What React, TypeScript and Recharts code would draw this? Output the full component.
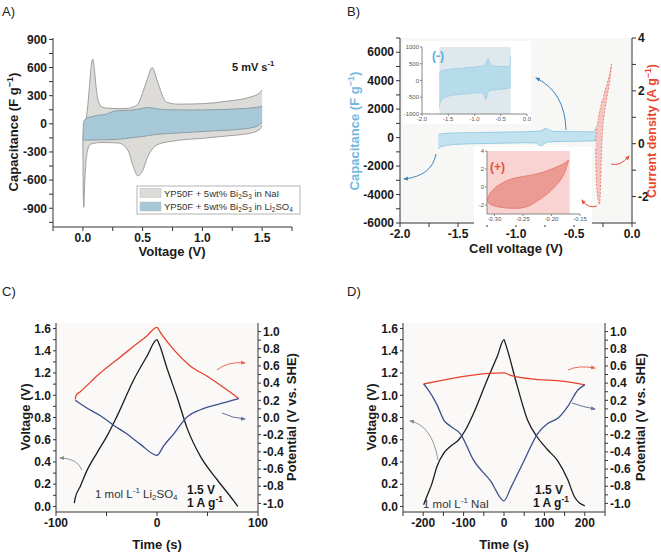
import { ComposedChart, Area, Line, XAxis, YAxis, CartesianGrid, ReferenceArea } from 'recharts';

const FONT = '"Liberation Sans", Arial, Helvetica, sans-serif';

// A) CV loops at 5 mV/s, capacitance (F/g) vs voltage (V)
const naiVoltage = [0, 0.004, 0.008, 0.015, 0.025, 0.04, 0.055, 0.07, 0.082, 0.095, 0.11, 0.13, 0.16, 0.2, 0.3, 0.38, 0.42, 0.46, 0.5, 0.54, 0.58, 0.62, 0.66, 0.7, 0.8, 1.0, 1.2, 1.4, 1.48, 1.5];
const naiUpper = [-175, -120, -60, -20, 40, 180, 400, 620, 690, 600, 400, 240, 180, 168, 162, 165, 180, 210, 330, 480, 600, 470, 320, 230, 210, 215, 240, 285, 330, 360];
const naiLower = [-180, -800, -890, -650, -420, -280, -230, -215, -210, -208, -205, -200, -200, -200, -205, -290, -450, -555, -500, -360, -270, -225, -205, -195, -175, -155, -130, -100, -60, -20];

const liVoltage = [0, 0.005, 0.02, 0.1, 0.2, 0.26, 0.3, 0.4, 0.5, 0.55, 0.6, 0.7, 0.9, 1.1, 1.3, 1.45, 1.5];
const liUpper = [-170, 10, 50, 85, 105, 135, 140, 145, 165, 175, 165, 150, 148, 150, 160, 175, 185];
const liLower = [-175, -180, -175, -172, -170, -168, -165, -150, -135, -125, -115, -105, -90, -75, -60, -30, 15];

// B) negative electrode (capacitance) and positive electrode (current density)
const negVoltage = [-1.67, -1.66, -1.63, -1.6, -1.5, -1.3, -1.1, -0.9, -0.83, -0.8, -0.78, -0.76, -0.74, -0.72, -0.68, -0.5, -0.34, -0.32, -0.31];
const negUpper = [200, 240, 280, 300, 330, 360, 390, 420, 440, 460, 500, 600, 640, 560, 440, 420, 410, 500, 750];
const negLower = [-800, -700, -600, -540, -470, -420, -390, -360, -380, -520, -560, -450, -340, -310, -290, -260, -230, -220, -200];

const posVoltage = [-0.314, -0.31, -0.305, -0.3, -0.29, -0.28, -0.27, -0.265, -0.26, -0.25, -0.24, -0.23, -0.22, -0.21, -0.2, -0.19, -0.18, -0.177];
const posUpper = [0.1, 0.35, 0.55, 0.7, 0.95, 1.2, 1.4, 1.5, 1.6, 1.7, 1.88, 2.05, 2.2, 2.35, 2.5, 2.7, 2.92, 3.0];
const posLower = [-0.2, -1.1, -1.6, -1.9, -2.15, -2.3, -1.4, -0.6, 0.0, 0.7, 1.1, 1.4, 1.65, 1.9, 2.15, 2.45, 2.82, 3.0];

const posZoomVoltage = [-0.313, -0.31, -0.3, -0.29, -0.28, -0.27, -0.26, -0.25, -0.24, -0.23, -0.22, -0.21, -0.2, -0.19, -0.18, -0.175, -0.17];
const posZoomUpper = [-1.45, -1.0, -0.15, 0.3, 0.65, 0.9, 1.05, 1.17, 1.28, 1.4, 1.55, 1.75, 2.0, 2.25, 2.55, 2.75, 3.0];
const posZoomLower = [-1.45, -1.8, -2.1, -2.25, -2.33, -2.37, -2.37, -2.3, -2.1, -1.75, -1.35, -0.9, -0.35, 0.3, 1.2, 1.9, 3.0];

// C) GCD in 1 mol/L Li2SO4
const liCellTime = [-81.8, -81, -76, -69.5, -59.6, -49.7, -39.7, -23, -10, 0, 1.7, 10, 20, 30, 43, 59.6, 76, 80];
const liCell = [0.03, 0.075, 0.18, 0.32, 0.48, 0.63, 0.81, 1.14, 1.35, 1.5, 1.47, 1.24, 0.98, 0.7, 0.45, 0.24, 0.05, 0.0];
const liPosTime = [-81, -80, -76, -56, -40, -23, -10, 0, 3.3, 16.6, 33, 49.7, 69.5, 81];
const liPos = [0.21, 0.26, 0.3, 0.52, 0.67, 0.83, 0.95, 1.05, 0.99, 0.79, 0.6, 0.48, 0.32, 0.22];
const liNegTime = [-81, -69.5, -56, -43, -30, -16.6, 0, 6.6, 16.6, 30, 43, 59.6, 81];
const liNeg = [0.2, 0.11, 0.02, -0.09, -0.19, -0.31, -0.44, -0.33, -0.19, 0.01, 0.09, 0.15, 0.22];

// D) GCD in 1 mol/L NaI
const naCellTime = [-199, -191, -178, -166, -149, -133, -112, -95, -75, -41.5, -16.6, 0, 4, 33, 58, 83, 108, 133, 158, 174, 187, 200];
const naCell = [0.015, 0.09, 0.21, 0.36, 0.48, 0.54, 0.6, 0.69, 0.84, 1.14, 1.35, 1.5, 1.46, 1.08, 0.78, 0.62, 0.51, 0.41, 0.24, 0.09, 0.03, 0.006];
const naPosTime = [-199, 0, 16.6, 66, 149, 200];
const naPos = [0.39, 0.52, 0.49, 0.45, 0.42, 0.38];
const naNegTime = [-199, -187, -166, -149, -133, -108, -75, -33, 0, 16.6, 50, 83, 108, 133, 158, 183, 200];
const naNeg = [0.39, 0.32, 0.15, -0.03, -0.1, -0.19, -0.5, -0.74, -0.97, -0.82, -0.5, -0.19, -0.07, -0.01, 0.13, 0.32, 0.38];

// ticks (all positions) and the labelled ones
const aXTicks = [-0.25, 0, 0.25, 0.5, 0.75, 1, 1.25, 1.5, 1.75];
const aXMajor = [0, 0.5, 1, 1.5];
const aYTicks = [-1050, -900, -750, -600, -450, -300, -150, 0, 150, 300, 450, 600, 750, 900];
const aYMajor = [-900, -600, -300, 0, 300, 600, 900];
const bXTicks = [-2, -1.75, -1.5, -1.25, -1, -0.75, -0.5, -0.25, 0];
const bXMajor = [-2, -1.5, -1, -0.5, 0];
const bCapTicks = [-6000, -5000, -4000, -3000, -2000, -1000, 0, 1000, 2000, 3000, 4000, 5000, 6000, 7000];
const bCapMajor = [-6000, -4000, -2000, 0, 2000, 4000, 6000];
const bJTicks = [-3, -2, -1, 0, 1, 2, 3, 4];
const bJMajor = [-2, 0, 2, 4];
const negInsetX = [-2, -1.5, -1, -0.5, 0];
const negInsetY = [-1000, -500, 0, 500, 1000];
const posInsetX = [-0.3, -0.25, -0.2, -0.15];
const posInsetY = [-2, 0, 2, 4];
const cXTicks = [-100, -50, 0, 50, 100];
const cXMajor = [-100, 0, 100];
const dXTicks = [-250, -200, -150, -100, -50, 0, 50, 100, 150, 200, 250];
const dXMajor = [-200, -100, 0, 100, 200];
const vTicks = [0, 0.1, 0.2, 0.3, 0.4, 0.5, 0.6, 0.7, 0.8, 0.9, 1.0, 1.1, 1.2, 1.3, 1.4, 1.5, 1.6];
const vMajor = [0, 0.2, 0.4, 0.6, 0.8, 1.0, 1.2, 1.4, 1.6];
const pTicks = [-1.0, -0.9, -0.8, -0.7, -0.6, -0.5, -0.4, -0.3, -0.2, -0.1, 0, 0.1, 0.2, 0.3, 0.4, 0.5, 0.6, 0.7, 0.8, 0.9, 1.0];
const pMajor = [-1.0, -0.8, -0.6, -0.4, -0.2, 0, 0.2, 0.4, 0.6, 0.8, 1.0];

const band = (x: number[], lo: number[], hi: number[]) => x.map((v, i) => ({ x: v, band: [lo[i], hi[i]] }));
const pts = (x: number[], y: number[]) => x.map((v, i) => ({ x: v, y: y[i] }));
const fmt = (majors: number[], digits: number) => (v: number) =>
  majors.some((m) => Math.abs(m - v) < 1e-9) ? (Math.abs(v) < 1e-9 ? 0 : v).toFixed(digits) : '';

const tickBig = { fontSize: 12, fontWeight: 700, fill: '#1a1a1a', fontFamily: FONT };
const tickSmall = { fontSize: 6, fill: '#555', fontFamily: FONT };
const AX = '#333';
const FRAME = '#999';

function Sup({ t }: { t: string }) {
  return <tspan dy={-5} fontSize="0.7em">{t}</tspan>;
}

export default function App() {
  return (
    <div style={{ position: 'relative', width: 661, height: 552, background: '#fff', overflow: 'hidden', fontFamily: FONT }}>
      <style>{'body{margin:0}'}</style>

      {/* A */}
      <div style={{ position: 'absolute', left: 0, top: 0 }}>
        <ComposedChart width={300} height={260} margin={{ top: 38, right: 8, bottom: 0, left: 0 }}>
          <XAxis dataKey="x" type="number" domain={[-0.25, 1.75]} ticks={aXTicks} interval={0} tickFormatter={fmt(aXMajor, 1)}
            height={33} tick={tickBig} tickSize={4} stroke={AX} allowDataOverflow />
          <XAxis xAxisId="top" orientation="top" type="number" domain={[-0.25, 1.75]} height={0} tick={false} tickLine={false} stroke={FRAME} />
          <YAxis type="number" domain={[-1100, 915]} ticks={aYTicks} interval={0} tickFormatter={fmt(aYMajor, 0)}
            width={53} tick={tickBig} tickSize={4} stroke={AX} allowDataOverflow />
          <YAxis yAxisId="r" orientation="right" type="number" domain={[0, 1]} width={0} tick={false} tickLine={false} stroke={FRAME} />
          <Area data={band(naiVoltage, naiLower, naiUpper)} dataKey="band" type="monotone" fill="#dddbd8" fillOpacity={1}
            stroke="#8a8a8a" strokeWidth={0.8} isAnimationActive={false} />
          <Area data={band(liVoltage, liLower, liUpper)} dataKey="band" type="monotone" fill="#a7c9d7" fillOpacity={1}
            stroke="#7d8f98" strokeWidth={0.8} isAnimationActive={false} />
        </ComposedChart>
      </div>

      {/* B */}
      <div style={{ position: 'absolute', left: 320, top: 0 }}>
        <ComposedChart width={341} height={260} margin={{ top: 38, right: 0, bottom: 0, left: 0 }}>
          <CartesianGrid yAxisId="cap" horizontal={false} vertical={false} fill="#f7f7f6" />
          <XAxis dataKey="x" type="number" domain={[-2, 0]} ticks={bXTicks} interval={0} tickFormatter={fmt(bXMajor, 1)}
            height={37} tick={tickBig} tickSize={4} stroke={AX} allowDataOverflow />
          <XAxis xAxisId="top" orientation="top" type="number" domain={[-2, 0]} height={0} tick={false} tickLine={false} stroke={FRAME} />
          <YAxis yAxisId="cap" type="number" domain={[-6000, 7000]} ticks={bCapTicks} interval={0} tickFormatter={fmt(bCapMajor, 0)}
            width={80} tick={tickBig} tickSize={4} stroke={AX} allowDataOverflow />
          <YAxis yAxisId="j" orientation="right" type="number" domain={[-3, 4]} ticks={bJTicks} interval={0} tickFormatter={fmt(bJMajor, 0)}
            width={29} tick={tickBig} tickSize={4} stroke={AX} allowDataOverflow />
          <Area yAxisId="cap" data={band(negVoltage, negLower, negUpper)} dataKey="band" type="monotone" fill="#c3e2f0" fillOpacity={1}
            stroke="#86c3e0" strokeWidth={0.8} isAnimationActive={false} />
          <Area yAxisId="j" data={band(posVoltage, posLower, posUpper)} dataKey="band" type="monotone" fill="#f4c6c3" fillOpacity={1}
            stroke="#e8604f" strokeWidth={0.7} strokeDasharray="2 1.5" isAnimationActive={false} />
        </ComposedChart>
      </div>

      {/* B inset (-) */}
      <div style={{ position: 'absolute', left: 403, top: 41, background: '#fff' }}>
        <ComposedChart width={128} height={83} margin={{ top: 6, right: 4, bottom: 0, left: 0 }}>
          <XAxis dataKey="x" type="number" domain={[-2, 0]} ticks={negInsetX} interval={0} tickFormatter={(v: number) => v.toFixed(1)}
            height={10} tick={tickSmall} tickSize={2} tickMargin={1} stroke="#888" allowDataOverflow />
          <XAxis xAxisId="top" orientation="top" type="number" domain={[-2, 0]} height={0} tick={false} tickLine={false} stroke="#888" />
          <YAxis type="number" domain={[-1000, 1000]} ticks={negInsetY} interval={0}
            width={19} tick={tickSmall} tickSize={2} tickMargin={1} stroke="#888" allowDataOverflow />
          <YAxis yAxisId="r" orientation="right" type="number" domain={[0, 1]} width={0} tick={false} tickLine={false} stroke="#888" />
          <ReferenceArea x1={-1.67} x2={-0.31} y1={-1000} y2={1000} fill="#dfe8ec" fillOpacity={1} stroke="none" />
          <Area data={band(negVoltage, negLower, negUpper)} dataKey="band" type="monotone" fill="#b6dbeb" fillOpacity={1}
            stroke="#8cc6e0" strokeWidth={0.6} isAnimationActive={false} />
        </ComposedChart>
      </div>

      {/* B inset (+) */}
      <div style={{ position: 'absolute', left: 474, top: 147, background: '#fff' }}>
        <ComposedChart width={118} height={78} margin={{ top: 4, right: 12, bottom: 0, left: 0 }}>
          <XAxis dataKey="x" type="number" domain={[-0.313, -0.15]} ticks={posInsetX} interval={0} tickFormatter={(v: number) => v.toFixed(2)}
            height={11} tick={tickSmall} tickSize={2} tickMargin={1} stroke="#888" allowDataOverflow />
          <XAxis xAxisId="top" orientation="top" type="number" domain={[-0.313, -0.15]} height={0} tick={false} tickLine={false} stroke="#888" />
          <YAxis type="number" domain={[-3, 4]} ticks={posInsetY} interval={0}
            width={13} tick={tickSmall} tickSize={2} tickMargin={1} stroke="#888" allowDataOverflow />
          <YAxis yAxisId="r" orientation="right" type="number" domain={[0, 1]} width={0} tick={false} tickLine={false} stroke="#888" />
          <ReferenceArea x1={-0.313} x2={-0.168} y1={-3} y2={4} fill="#f8d3d2" fillOpacity={1} stroke="none" />
          <Area data={band(posZoomVoltage, posZoomLower, posZoomUpper)} dataKey="band" type="monotone" fill="#ec9a94" fillOpacity={1}
            stroke="#e56a5c" strokeWidth={0.7} isAnimationActive={false} />
        </ComposedChart>
      </div>

      {/* C */}
      <div style={{ position: 'absolute', left: 0, top: 290 }}>
        <ComposedChart width={330} height={262} margin={{ top: 33, right: 0, bottom: 0, left: 0 }}>
          <CartesianGrid yAxisId="v" horizontal={false} vertical={false} fill="#faf9f8" />
          <XAxis dataKey="x" type="number" domain={[-100, 100]} ticks={cXTicks} interval={0} tickFormatter={fmt(cXMajor, 0)}
            height={40} tick={tickBig} tickSize={4} stroke={AX} allowDataOverflow />
          <XAxis xAxisId="top" orientation="top" type="number" domain={[-100, 100]} height={0} tick={false} tickLine={false} stroke={FRAME} />
          <YAxis yAxisId="v" type="number" domain={[-0.05, 1.65]} ticks={vTicks} interval={0} tickFormatter={fmt(vMajor, 1)}
            width={56} tick={tickBig} tickSize={3} stroke={AX} allowDataOverflow />
          <YAxis yAxisId="p" orientation="right" type="number" domain={[-1.1, 1.1]} ticks={pTicks} interval={0} tickFormatter={fmt(pMajor, 1)}
            width={72} tick={tickBig} tickSize={3} stroke={AX} allowDataOverflow />
          <Line yAxisId="v" data={pts(liCellTime, liCell)} dataKey="y" type="monotone" stroke="#1c1c1c" strokeWidth={1.3} dot={false} isAnimationActive={false} />
          <Line yAxisId="p" data={pts(liPosTime, liPos)} dataKey="y" type="monotone" stroke="#e8412c" strokeWidth={1.3} dot={false} isAnimationActive={false} />
          <Line yAxisId="p" data={pts(liNegTime, liNeg)} dataKey="y" type="monotone" stroke="#3b4f8e" strokeWidth={1.3} dot={false} isAnimationActive={false} />
        </ComposedChart>
      </div>

      {/* D */}
      <div style={{ position: 'absolute', left: 330, top: 290 }}>
        <ComposedChart width={331} height={262} margin={{ top: 33, right: 0, bottom: 0, left: 0 }}>
          <CartesianGrid yAxisId="v" horizontal={false} vertical={false} fill="#faf9f8" />
          <XAxis dataKey="x" type="number" domain={[-250, 250]} ticks={dXTicks} interval={0} tickFormatter={fmt(dXMajor, 0)}
            height={40} tick={tickBig} tickSize={4} stroke={AX} allowDataOverflow />
          <XAxis xAxisId="top" orientation="top" type="number" domain={[-250, 250]} height={0} tick={false} tickLine={false} stroke={FRAME} />
          <YAxis yAxisId="v" type="number" domain={[-0.05, 1.65]} ticks={vTicks} interval={0} tickFormatter={fmt(vMajor, 1)}
            width={73} tick={tickBig} tickSize={3} stroke={AX} allowDataOverflow />
          <YAxis yAxisId="p" orientation="right" type="number" domain={[-1.1, 1.1]} ticks={pTicks} interval={0} tickFormatter={fmt(pMajor, 1)}
            width={56} tick={tickBig} tickSize={3} stroke={AX} allowDataOverflow />
          <Line yAxisId="v" data={pts(naCellTime, naCell)} dataKey="y" type="monotone" stroke="#1c1c1c" strokeWidth={1.3} dot={false} isAnimationActive={false} />
          <Line yAxisId="p" data={pts(naPosTime, naPos)} dataKey="y" type="monotone" stroke="#e8412c" strokeWidth={1.3} dot={false} isAnimationActive={false} />
          <Line yAxisId="p" data={pts(naNegTime, naNeg)} dataKey="y" type="monotone" stroke="#3b4f8e" strokeWidth={1.3} dot={false} isAnimationActive={false} />
        </ComposedChart>
      </div>

      {/* titles, legend, notes and arrows */}
      <svg width={661} height={552} style={{ position: 'absolute', left: 0, top: 0, pointerEvents: 'none' }} fontFamily={FONT}>
        <defs>
          {[['hBlue', '#3f86bf'], ['hRed', '#e8503a'], ['hNavy', '#4a5a8a'], ['hGray', '#777']].map(([id, c]) => (
            <marker key={id} id={id} viewBox="0 0 10 10" refX="8" refY="5" markerWidth="5" markerHeight="5" orient="auto">
              <path d="M0,1 L10,5 L0,9 z" fill={c} />
            </marker>
          ))}
        </defs>

        <g fontSize={13} fill="#222">
          <text x={2} y={16}>A)</text>
          <text x={347} y={16}>B)</text>
          <text x={2} y={296}>C)</text>
          <text x={347} y={296}>D)</text>
        </g>

        {/* A */}
        <g fontSize={13} fontWeight={700} fill="#1a1a1a" textAnchor="middle">
          <text transform="rotate(-90 18 132)" x={18} y={132}>Capacitance (F g<Sup t="−1" /><tspan dy={5}>)</tspan></text>
          <text x={172} y={256}>Voltage (V)</text>
        </g>
        <text x={232} y={71} fontSize={11} fontWeight={700} fill="#1a1a1a">5 mV s<Sup t="-1" /></text>
        <rect x={137} y={186} width={163} height={28} fill="#fff" stroke="#a0a0a0" strokeWidth={0.8} />
        <rect x={140} y={188.5} width={21} height={9} fill="#dddbd8" stroke="#bbb" strokeWidth={0.5} />
        <rect x={140} y={202} width={21} height={9} fill="#a7c9d7" stroke="#bbb" strokeWidth={0.5} />
        <g fontSize={9.5} fill="#333">
          <text x={164} y={196.5}>YP50F + 5wt% Bi<tspan dy={2} fontSize={6.5}>2</tspan><tspan dy={-2}>S</tspan><tspan dy={2} fontSize={6.5}>3</tspan><tspan dy={-2}> in NaI</tspan></text>
          <text x={164} y={210}>YP50F + 5wt% Bi<tspan dy={2} fontSize={6.5}>2</tspan><tspan dy={-2}>S</tspan><tspan dy={2} fontSize={6.5}>3</tspan><tspan dy={-2}> in Li</tspan><tspan dy={2} fontSize={6.5}>2</tspan><tspan dy={-2}>SO</tspan><tspan dy={2} fontSize={6.5}>4</tspan></text>
        </g>

        {/* B */}
        <g fontSize={13} fontWeight={700} textAnchor="middle">
          <text transform="rotate(-90 359 131)" x={359} y={131} fill="#74b8e0">Capacitance (F g<Sup t="−1" /><tspan dy={5}>)</tspan></text>
          <text transform="rotate(-90 656 131)" x={656} y={131} fontSize={12.5} fill="#e9472f">Current density (A g<Sup t="−1" /><tspan dy={5}>)</tspan></text>
          <text x={516} y={253} fill="#1a1a1a">Cell voltage (V)</text>
        </g>
        <text x={432} y={60} fontSize={12} fontWeight={700} fill="#5aaee0">(-)</text>
        <text x={490} y={171} fontSize={12} fontWeight={700} fill="#e8503a">(+)</text>
        <g fill="none" strokeWidth={1}>
          <path d="M566 130 Q565 92 536 78" stroke="#3f86bf" markerEnd="url(#hBlue)" />
          <path d="M436 154 Q432 176 404 179" stroke="#3f86bf" markerEnd="url(#hBlue)" />
          <path d="M611 164 Q620 167 629 156" stroke="#e8503a" markerEnd="url(#hRed)" />
          <path d="M597 206 Q588 209 582 200" stroke="#e8503a" markerEnd="url(#hRed)" />
        </g>

        {/* C */}
        <g fontSize={13} fontWeight={700} fill="#1a1a1a" textAnchor="middle">
          <text transform="rotate(-90 30 417)" x={30} y={417}>Voltage (V)</text>
          <text transform="rotate(-90 296 417)" x={296} y={417}>Potential (V vs. SHE)</text>
          <text x={157} y={549}>Time (s)</text>
        </g>
        <text x={95} y={498} fontSize={11.5} fill="#333">1 mol L<Sup t="-1" /><tspan dy={5}> Li</tspan><tspan dy={2} fontSize={8}>2</tspan><tspan dy={-2}>SO</tspan><tspan dy={2} fontSize={8}>4</tspan></text>
        <g fontSize={12} fontWeight={700} fill="#1a1a1a">
          <text x={187} y={494}>1.5 V</text>
          <text x={187} y={507}>1 A g<Sup t="-1" /></text>
        </g>
        <g fill="none" strokeWidth={1} opacity={0.85}>
          <path d="M217 370 Q228 361 245 363" stroke="#e8503a" markerEnd="url(#hRed)" />
          <path d="M222 413 Q232 418 245 419" stroke="#4a5a8a" markerEnd="url(#hNavy)" />
          <path d="M82 470 Q77 458 60 458" stroke="#888" markerEnd="url(#hGray)" />
        </g>

        {/* D */}
        <g fontSize={13} fontWeight={700} fill="#1a1a1a" textAnchor="middle">
          <text transform="rotate(-90 376 417)" x={376} y={417}>Voltage (V)</text>
          <text transform="rotate(-90 645 417)" x={645} y={417}>Potential (V vs. SHE)</text>
          <text x={504} y={549}>Time (s)</text>
        </g>
        <text x={423} y={508} fontSize={11.5} fill="#333">1 mol L<Sup t="-1" /><tspan dy={5}> NaI</tspan></text>
        <g fontSize={12} fontWeight={700} fill="#1a1a1a">
          <text x={535} y={494}>1.5 V</text>
          <text x={533} y={507}>1 A g<Sup t="-1" /></text>
        </g>
        <g fill="none" strokeWidth={1} opacity={0.85}>
          <path d="M568 370 Q578 365 595 368" stroke="#e8503a" markerEnd="url(#hRed)" />
          <path d="M572 403 Q583 407 595 409" stroke="#4a5a8a" markerEnd="url(#hNavy)" />
          <path d="M438 460 Q432 425 410 421" stroke="#888" markerEnd="url(#hGray)" />
        </g>
      </svg>
    </div>
  );
}
